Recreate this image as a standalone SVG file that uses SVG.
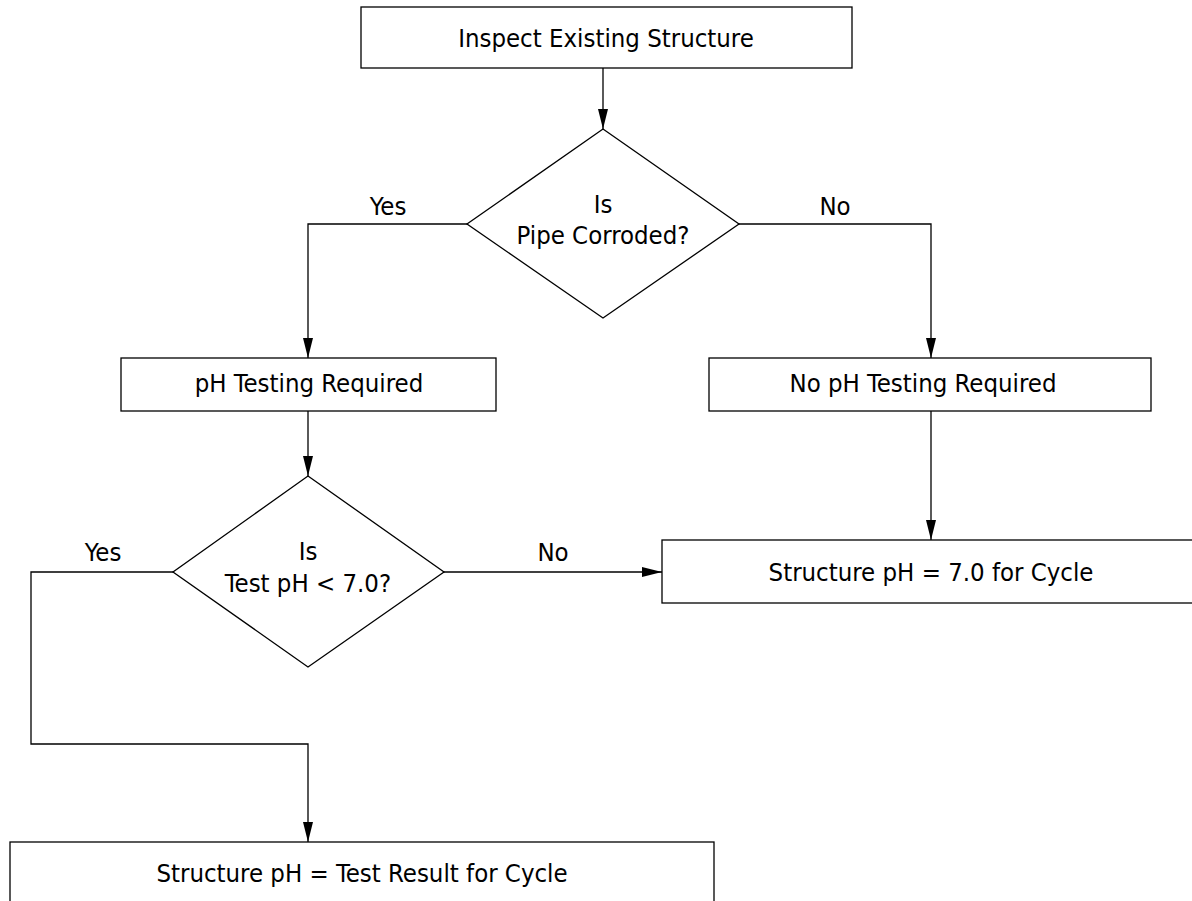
<svg xmlns="http://www.w3.org/2000/svg" width="1192" height="901" viewBox="0 0 1192 901">
<defs>
<style>
.box{fill:#fff;stroke:#000;stroke-width:1.3}
.ln{fill:none;stroke:#000;stroke-width:1.3}
text{font-family:"DejaVu Sans Condensed","DejaVu Sans","Liberation Sans",sans-serif;font-size:25.5px;fill:#000;text-anchor:middle}
</style>
<marker id="ah" markerWidth="20" markerHeight="10" refX="20" refY="5" orient="auto" markerUnits="userSpaceOnUse">
<path d="M0,0 L20,5 L0,10 Z" fill="#000"/>
</marker>
</defs>
<rect width="1192" height="901" fill="#fff"/>
<g id="connectors">
<line class="ln" x1="603" y1="68" x2="603" y2="129" marker-end="url(#ah)"/>
<polyline class="ln" points="467,224 308,224 308,358" marker-end="url(#ah)"/>
<polyline class="ln" points="739,224 931,224 931,358" marker-end="url(#ah)"/>
<line class="ln" x1="308" y1="411" x2="308" y2="476" marker-end="url(#ah)"/>
<line class="ln" x1="931" y1="411" x2="931" y2="540" marker-end="url(#ah)"/>
<line class="ln" x1="444" y1="572" x2="662" y2="572" marker-end="url(#ah)"/>
<polyline class="ln" points="173,572 31,572 31,744 308,744 308,842" marker-end="url(#ah)"/>
<text x="388" y="215">Yes</text>
<text x="835" y="215">No</text>
<text x="103" y="561">Yes</text>
<text x="553" y="561">No</text>
</g>
<g id="inspect">
<rect class="box" x="361" y="7" width="491" height="61"/>
<text x="606" y="47">Inspect Existing Structure</text>
</g>
<g id="corroded">
<polygon class="box" points="603,129 739,224 603,318 467,224"/>
<text x="603" y="213">Is</text>
<text x="603" y="244">Pipe Corroded?</text>
</g>
<g id="phreq">
<rect class="box" x="121" y="358" width="375" height="53"/>
<text x="309" y="392">pH Testing Required</text>
</g>
<g id="nophreq">
<rect class="box" x="709" y="358" width="442" height="53"/>
<text x="923" y="392">No pH Testing Required</text>
</g>
<g id="testph">
<polygon class="box" points="308,476 444,572 308,667 173,572"/>
<text x="308" y="560">Is</text>
<text x="308" y="592">Test pH &lt; 7.0?</text>
</g>
<g id="struct70">
<rect class="box" x="662" y="540" width="540" height="63"/>
<text x="931" y="581">Structure pH = 7.0 for Cycle</text>
</g>
<g id="structres">
<rect class="box" x="10" y="842" width="704" height="70"/>
<text x="362" y="882">Structure pH = Test Result for Cycle</text>
</g>
</svg>
